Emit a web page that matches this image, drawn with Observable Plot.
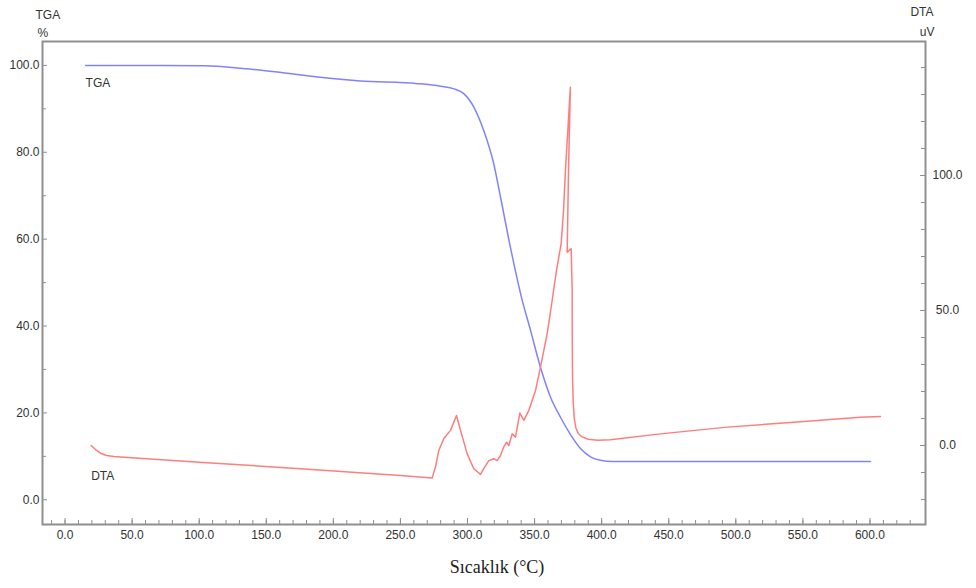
<!DOCTYPE html>
<html><head><meta charset="utf-8">
<script src="https://cdn.jsdelivr.net/npm/d3@7"></script>
<script src="https://cdn.jsdelivr.net/npm/@observablehq/plot@0.6"></script>
<style>body{margin:0;background:#fff;} #chart svg{display:block}</style>
</head><body><div id="chart"></div>
<script>
// TGA (%) vs temperature (°C)
const tgaTemp = [15.3, 36.1, 71.2, 103.2, 136.0, 160.0, 188.2, 220.2, 262.7, 280.0, 290.0, 297.2, 304.7, 312.1, 319.6, 324.6, 332.0, 340.8, 347.0, 354.4, 361.9, 369.3, 376.8, 384.2, 391.7, 399.1, 408.1, 450.0, 500.0, 550.0, 600.4];
const tgaMass = [100.0, 100.0, 100.0, 99.9, 99.2, 98.4, 97.3, 96.4, 95.8, 95.2, 94.6, 93.5, 90.4, 85.0, 77.3, 69.7, 58.1, 45.9, 39.0, 30.5, 23.6, 19.0, 15.0, 11.8, 9.9, 9.1, 8.8, 8.8, 8.8, 8.8, 8.8];

// DTA (uV) vs temperature (°C)
const dtaTemp = [19.5, 22.7, 26.5, 30.9, 36.4, 41.4, 100.0, 175.5, 250.0, 273.7, 276.1, 278.6, 282.3, 287.3, 291.8, 294.8, 299.8, 304.7, 309.7, 312.1, 315.9, 319.6, 322.1, 324.6, 327.0, 329.1, 330.8, 333.3, 335.8, 339.0, 342.0, 345.7, 350.7, 354.4, 359.4, 363.1, 366.3, 369.8, 371.6, 373.0, 376.7, 375.3, 374.3, 377.3, 378.0, 378.1, 378.3, 378.8, 379.6, 380.8, 382.5, 385.0, 390.0, 397.0, 406.6, 443.8, 493.6, 543.2, 592.9, 607.8];
const dtaSignal = [0.0, -1.5, -2.85, -3.7, -4.1, -4.3, -6.2, -8.6, -11.1, -12.0, -8.0, -1.85, 2.5, 5.6, 11.1, 5.6, -3.1, -8.6, -10.7, -8.6, -5.6, -4.9, -5.6, -3.7, -0.6, 1.2, 0.0, 4.3, 3.1, 12.0, 9.3, 13.0, 20.4, 29.0, 41.4, 53.7, 64.8, 74.7, 87.0, 101.9, 132.7, 101.9, 71.6, 72.9, 57.4, 40.0, 25.0, 16.0, 10.0, 6.5, 4.5, 3.3, 2.3, 1.9, 2.1, 4.3, 6.8, 8.6, 10.5, 10.7];

// Ticks
const xTicks = [0, 50, 100, 150, 200, 250, 300, 350, 400, 450, 500, 550, 600];
const xMinorTicks = d3.range(-10, 631, 10);
const tgaTicks = [0, 20, 40, 60, 80, 100];
const tgaMinorTicks = [10, 30, 50, 70, 90];
const dtaTicks = [0, 50, 100];
const dtaMinorTicks = d3.range(-20, 141, 10);

// mapping of the right (DTA) axis onto the left (TGA) scale
const dtaA = 0.6215, dtaB = 12.50;
const toLeft = d => dtaB + dtaA * d;

const tga = tgaTemp.map((t, i) => ({t, v: tgaMass[i]}));
const dta = dtaTemp.map((t, i) => ({t, s: dtaSignal[i]}));

const W = 976, H = 588, mL = 42, mR = 51, mT = 41, mB = 64;
const fW = W - mL - mR, fH = H - mT - mB;
const axisCol = "#8f8f8f", textCol = "#333";

const chart = Plot.plot({
  width: W, height: H,
  marginLeft: mL, marginRight: mR, marginTop: mT, marginBottom: mB,
  style: {fontFamily: "'Liberation Sans', Arial, sans-serif", fontSize: "12px", color: textCol, background: "#fff"},
  x: {domain: [-16.8, 641.4], axis: null},
  y: {domain: [-5.69, 105.5], axis: null},
  marks: [
    // ticks
    Plot.tickX(xMinorTicks, {x: d => d, stroke: axisCol, insetTop: fH - 4}),
    Plot.tickX(xTicks, {x: d => d, stroke: axisCol, insetTop: fH - 6}),
    Plot.tickY(tgaMinorTicks, {y: d => d, stroke: axisCol, insetRight: fW - 4}),
    Plot.tickY(tgaTicks, {y: d => d, stroke: axisCol, insetRight: fW - 5}),
    Plot.tickY(dtaMinorTicks, {y: toLeft, stroke: axisCol, insetLeft: fW - 4}),
    Plot.tickY(dtaTicks, {y: toLeft, stroke: axisCol, insetLeft: fW - 5}),
    // tick labels
    Plot.axisX(xTicks, {anchor: "bottom", tickSize: 0, tickPadding: 6, tickFormat: d => d.toFixed(1), label: null, fill: textCol}),
    Plot.axisY(tgaTicks, {anchor: "left", tickSize: 0, tickPadding: 3, tickFormat: d => d.toFixed(1), label: null, fill: textCol}),
    Plot.text(dtaTicks, {y: toLeft, text: d => d.toFixed(1), frameAnchor: "right", dx: 22, textAnchor: "middle", fill: textCol}),
    // curves
    Plot.line(tga, {x: "t", y: "v", stroke: "#8282ff", strokeWidth: 1.5, curve: "monotone-x"}),
    Plot.line(dta, {x: "t", y: d => toLeft(d.s), stroke: "#ff7d7d", strokeWidth: 1.5}),
    // inline labels anchored to first points
    Plot.text([tga[0]], {x: "t", y: "v", text: () => "TGA", dy: 18, textAnchor: "start", fill: textCol}),
    Plot.text([dta[0]], {x: "t", y: d => toLeft(d.s), text: () => "DTA", dy: 31, textAnchor: "start", fill: textCol}),
    // axis titles
    Plot.text(["TGA"], {frameAnchor: "top-left", dx: -7, dy: -31, fill: textCol}),
    Plot.text(["%"], {frameAnchor: "top-left", dx: -5, dy: -13, fill: textCol}),
    Plot.text(["DTA"], {frameAnchor: "top-right", dx: 8, dy: -34, fill: textCol}),
    Plot.text(["uV"], {frameAnchor: "top-right", dx: 9, dy: -14, fill: textCol}),
    Plot.text(["Sıcaklık (°C)"], {frameAnchor: "bottom", dx: 13, dy: 48, fontFamily: "'Liberation Serif', 'Times New Roman', serif", fontSize: 18, fill: "#222"}),
    Plot.frame({stroke: axisCol, strokeWidth: 2})
  ]
});
document.getElementById("chart").append(chart);
</script>
</body></html>
